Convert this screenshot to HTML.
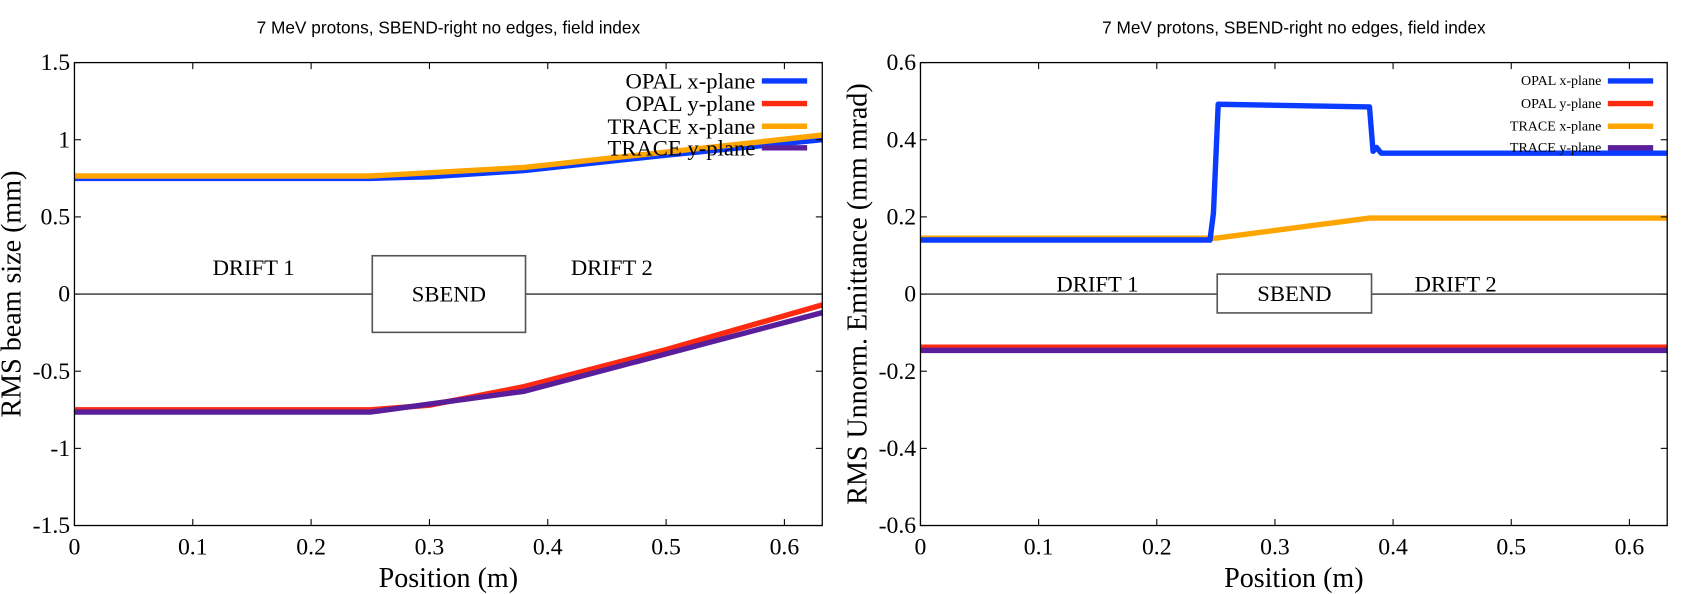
<!DOCTYPE html>
<html><head><meta charset="utf-8"><style>
html,body{margin:0;padding:0;background:#fff;}
svg{display:block;}
</style></head><body>
<svg width="1692" height="594" xmlns="http://www.w3.org/2000/svg" font-family="Liberation Serif, serif"><g id="s" transform="scale(1.0791)"></g></svg>
<script>
const S=document.getElementById('s');let h='';
function plot(o){
 const {x0,x1,y0,y1,ymin,ymax,yticks,ytl,title,ylab,series,leg,legFs,drift,box}=o;
 const X=v=>x0+(v/0.632)*(x1-x0), Y=v=>y0+(ymax-v)/(ymax-ymin)*(y1-y0);
 h+=`<text x="${(x0+x1)/2}" y="31" font-family="Liberation Sans, sans-serif" font-size="16" text-anchor="middle">${title}</text>`;
 h+=`<line x1="${x0}" y1="${Y(0)}" x2="${x1}" y2="${Y(0)}" stroke="#000" stroke-width="1"/>`;
 h+=`<rect x="${box[0]}" y="${box[1]}" width="${box[2]}" height="${box[3]}" fill="#fff" stroke="#555" stroke-width="1.5"/>`;
 h+=`<text x="${box[0]+box[2]/2}" y="${box[1]+box[3]/2+7}" font-size="21" text-anchor="middle">SBEND</text>`;
 h+=`<text x="${drift[0]}" y="${drift[2]}" font-size="21" text-anchor="middle">DRIFT 1</text>`;
 h+=`<text x="${drift[1]}" y="${drift[2]}" font-size="21" text-anchor="middle">DRIFT 2</text>`;
 for(const s of series){
  const p=s.pts.map(q=>X(q[0]).toFixed(1)+','+Y(q[1]).toFixed(1)).join(' ');
  h+=`<polyline points="${p}" fill="none" stroke="${s.c}" stroke-width="${s.w||5}" stroke-linejoin="round"/>`;
 }
 h+=`<rect x="${x0}" y="${y0}" width="${x1-x0}" height="${y1-y0}" fill="none" stroke="#000" stroke-width="1.2"/>`;
 for(let i=0;i<=6;i++){const x=X(i/10);
  h+=`<line x1="${x}" y1="${y1}" x2="${x}" y2="${y1-6}" stroke="#000"/><line x1="${x}" y1="${y0}" x2="${x}" y2="${y0+6}" stroke="#000"/>`;
  h+=`<text x="${x}" y="${y1+27}" font-size="22" text-anchor="middle">${i==0?'0':(i/10).toFixed(1)}</text>`;}
 yticks.forEach((v,i)=>{const y=Y(v);
  h+=`<line x1="${x0}" y1="${y}" x2="${x0+6}" y2="${y}" stroke="#000"/><line x1="${x1}" y1="${y}" x2="${x1-6}" y2="${y}" stroke="#000"/>`;
  h+=`<text x="${x0-4}" y="${y+7}" font-size="22" text-anchor="end">${ytl[i]}</text>`;});
 h+=`<text x="${(x0+x1)/2}" y="544" font-size="26" text-anchor="middle">Position (m)</text>`;
 h+=`<text transform="translate(${x0-50},${(y0+y1)/2}) rotate(-90)" font-size="26" text-anchor="middle">${ylab}</text>`;
 const names=['OPAL x-plane','OPAL y-plane','TRACE x-plane','TRACE y-plane'],cols=['#0a3cff','#ff2a10','#ffa500','#5a1e9a'];
 [75,96,117,137].forEach((y,i)=>{
  h+=`<text x="${x0+leg}" y="${y+(legFs>15?7:4)}" font-size="${legFs}" text-anchor="end">${names[i]}</text>`;
  h+=`<line x1="${x0+leg+6}" y1="${y}" x2="${x0+leg+48}" y2="${y}" stroke="${cols[i]}" stroke-width="5"/>`;});
}
const B='#0a3cff',R='#ff2a10',O='#ffa500',P='#5a1e9a';
plot({x0:69,x1:762,y0:58,y1:487,ymin:-1.5,ymax:1.5,yticks:[1.5,1,0.5,0,-0.5,-1,-1.5],ytl:['1.5','1','0.5','0','-0.5','-1','-1.5'],
 title:'7 MeV protons, SBEND-right no edges, field index',ylab:'RMS beam size (mm)',leg:631,legFs:21,drift:[235,567,255],box:[345,237,142,71],
 series:[
 {c:B,pts:[[0,0.75],[0.25,0.75],[0.3,0.76],[0.38,0.8],[0.5,0.9],[0.632,1.0]]},
 {c:O,pts:[[0,0.765],[0.25,0.765],[0.38,0.82],[0.632,1.03]]},
 {c:R,pts:[[0,-0.75],[0.25,-0.75],[0.3,-0.72],[0.38,-0.6],[0.5,-0.36],[0.632,-0.07]]},
 {c:P,pts:[[0,-0.765],[0.25,-0.765],[0.38,-0.63],[0.632,-0.12]]}]});
plot({x0:853,x1:1545,y0:58,y1:487,ymin:-0.6,ymax:0.6,yticks:[0.6,0.4,0.2,0,-0.2,-0.4,-0.6],ytl:['0.6','0.4','0.2','0','-0.2','-0.4','-0.6'],
 title:'7 MeV protons, SBEND-right no edges, field index',ylab:'RMS Unnorm. Emittance (mm mrad)',leg:631,legFs:13,drift:[1017,1349,270],box:[1128,254,143,36],
 series:[
 {c:O,pts:[[0,0.145],[0.25,0.145],[0.38,0.197],[0.632,0.197]]},
 {c:B,pts:[[0,0.14],[0.245,0.14],[0.248,0.21],[0.252,0.492],[0.38,0.485],[0.383,0.37],[0.386,0.38],[0.39,0.365],[0.632,0.365]]},
 {c:R,pts:[[0,-0.138],[0.632,-0.138]]},
 {c:P,pts:[[0,-0.146],[0.632,-0.146]]}]});
S.innerHTML=h;
</script>
</body></html>
